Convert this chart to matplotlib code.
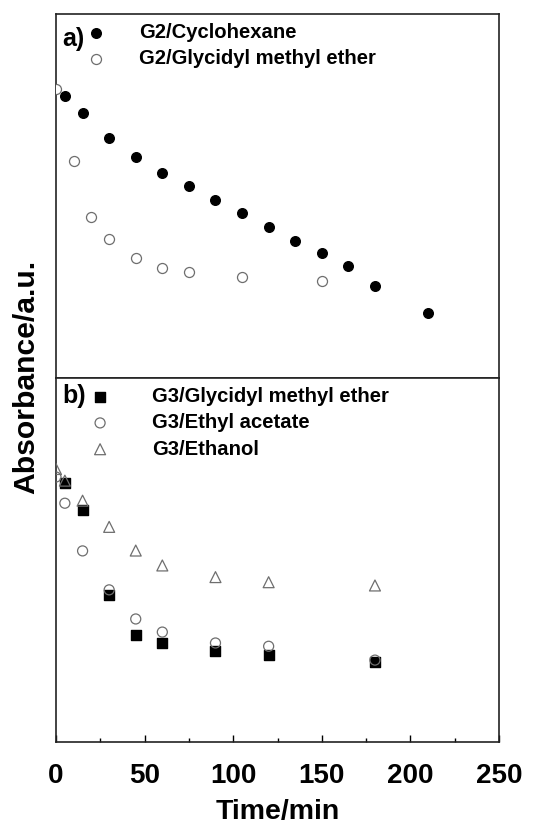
import matplotlib.pyplot as plt
import numpy as np

plt.rcParams['font.family'] = ['Liberation Sans', 'DejaVu Sans']
plt.rcParams['font.weight'] = 'bold'

# panel a) G2
t_cyclo = [5, 15, 30, 45, 60, 75, 90, 105, 120, 135, 150, 165, 180, 210]
a_cyclo = [0.775, 0.727, 0.660, 0.606, 0.564, 0.527, 0.489, 0.454, 0.416,
           0.377, 0.343, 0.309, 0.254, 0.179]
t_gme2 = [0, 10, 20, 30, 45, 60, 75, 105, 150]
a_gme2 = [0.793, 0.596, 0.441, 0.381, 0.329, 0.303, 0.291, 0.278, 0.266]

# panel b) G3
t_gme3 = [5, 15, 30, 45, 60, 90, 120, 180]
a_gme3 = [0.712, 0.637, 0.404, 0.293, 0.272, 0.249, 0.239, 0.219]
t_etac = [0, 5, 15, 30, 45, 60, 90, 120, 180]
a_etac = [0.728, 0.656, 0.525, 0.418, 0.338, 0.302, 0.272, 0.263, 0.225]
t_etoh = [0, 5, 15, 30, 45, 60, 90, 120, 180]
a_etoh = [0.750, 0.718, 0.663, 0.591, 0.526, 0.485, 0.453, 0.439, 0.430]

grey = '#6e6e6e'

fig = plt.figure(figsize=(5.45, 8.23), dpi=100)
L, R = 56 / 545, 499 / 545
ax1 = fig.add_axes([L, 1 - 378 / 823, R - L, (378 - 14) / 823])
ax2 = fig.add_axes([L, 1 - 742 / 823, R - L, (742 - 378) / 823])

ax1.scatter(t_cyclo, a_cyclo, s=48, marker='o', color='black', label='G2/Cyclohexane', zorder=3)
ax1.scatter(t_gme2, a_gme2, s=52, marker='o', facecolor='white', edgecolor=grey,
            linewidth=0.9, label='G2/Glycidyl methyl ether', zorder=3)

ax2.scatter(t_gme3, a_gme3, s=42, marker='s', color='black', label='G3/Glycidyl methyl ether', zorder=2)
ax2.scatter(t_etac, a_etac, s=52, marker='o', facecolor='none', edgecolor=grey,
            linewidth=0.9, label='G3/Ethyl acetate', zorder=3)
ax2.scatter(t_etoh, a_etoh, s=62, marker='^', facecolor='none', edgecolor=grey,
            linewidth=0.9, label='G3/Ethanol', zorder=3)

for ax in (ax1, ax2):
    ax.set_xlim(0, 250)
    ax.set_ylim(0, 1)
    ax.set_yticks([])
    for sp in ax.spines.values():
        sp.set_linewidth(1.2)
        sp.set_color('#222222')

ax1.set_xticks([])
ax2.set_xticks(np.arange(0, 251, 50))
ax2.set_xticks(np.arange(0, 251, 25), minor=True)
ax2.tick_params(axis='x', which='major', direction='in', length=5, width=1.0,
                labelsize=20, pad=15)
ax2.tick_params(axis='x', which='minor', direction='in', length=3, width=1.0)
ax2.set_xlabel('Time/min', fontsize=20.5, fontweight='bold', labelpad=7)

fig.text(26 / 545, 1 - 377 / 823, 'Absorbance/a.u.', rotation=90, fontsize=21.7,
         fontweight='bold', ha='center', va='center')

ax1.text(0.013, 0.93, 'a)', transform=ax1.transAxes, fontsize=18, fontweight='bold',
         ha='left', va='center')
ax2.text(0.015, 0.95, 'b)', transform=ax2.transAxes, fontsize=18, fontweight='bold',
         ha='left', va='center')

ax1.legend(loc='upper left', bbox_to_anchor=(0.03, 1.02), frameon=False, fontsize=14.6,
           handlelength=1.0, handletextpad=1.65, labelspacing=0.36, borderpad=0.3)
ax2.legend(loc='upper left', bbox_to_anchor=(0.04, 1.02), frameon=False, fontsize=14.6,
           handlelength=1.0, handletextpad=2.05, labelspacing=0.36, borderpad=0.3)

fig.savefig('out.png', dpi=100)
